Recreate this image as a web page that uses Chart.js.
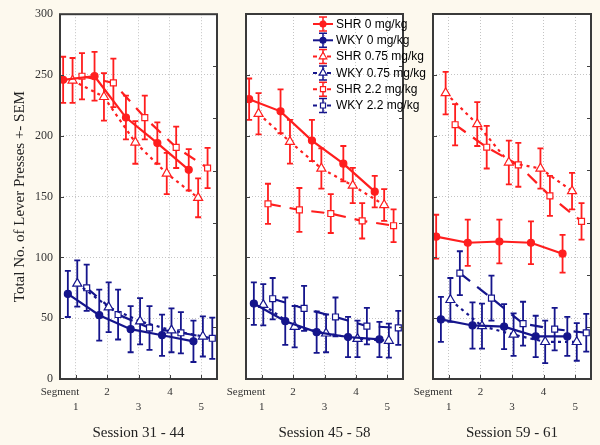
<!DOCTYPE html>
<html>
<head>
<meta charset="utf-8">
<script src="https://cdn.jsdelivr.net/npm/chart.js@4.4.1/dist/chart.umd.min.js"></script>
<style>
html, body { margin: 0; padding: 0; background: #fdf9ee; }
#wrap { position: relative; width: 600px; height: 445px; }
#wrap canvas { position: absolute; left: 0; top: 0; }
</style>
</head>
<body>
<div id="wrap">
	<canvas id="c1" width="600" height="445"></canvas>
	<canvas id="c2" width="600" height="445"></canvas>
	<canvas id="c3" width="600" height="445"></canvas>
</div>
<script>
// segments and sessions
const segments = [1, 2, 3, 4, 5];
const sessions = ['Session 31 - 44', 'Session 45 - 58', 'Session 59 - 61'];
const groups = ['SHR 0 mg/kg', 'WKY 0 mg/kg', 'SHR 0.75 mg/kg', 'WKY 0.75 mg/kg', 'SHR 2.2 mg/kg', 'WKY 2.2 mg/kg'];
const yTicks = [0, 50, 100, 150, 200, 250, 300];

// means, one row per session
const shr0 = [[246, 249, 215, 194, 172], [230, 220, 196, 177, 154], [117, 112, 113, 112, 103]];
const wky0 = [[70, 52.5, 41, 36, 31], [62, 47.5, 38.5, 34.5, 32.5], [49, 44, 43, 35, 35]];
const shr075 = [[245.5, 232, 194.5, 169, 149], [218, 195, 173, 159, 143], [235, 209.5, 178, 173, 154.5]];
const wky075 = [[78.5, 59, 47.5, 40, 35], [61, 43, 37.5, 33, 31.5], [65, 43.5, 36.5, 30.5, 30.5]];
const shr22 = [[249, 243.5, 215, 190.5, 173.5], [144, 139, 136, 130, 126], [209, 190.5, 176, 150.5, 129.5]];
const wky22 = [[75, 53, 42, 38, 33.5], [66, 58, 51, 43.5, 42], [87, 66.5, 45.5, 41, 38]];

// SEM
const shr0Sem = [[19, 20, 18, 17, 17], [17, 18, 17, 14.5, 13], [18, 19, 18, 17.5, 15.5]];
const wky0Sem = [[19, 21, 19, 17, 17], [17.5, 19.5, 17, 16.5, 14.5], [18.5, 19, 18.5, 17, 16]];
const shr075Sem = [[18.5, 19.5, 17.5, 17, 16], [17, 18, 16.5, 14.5, 13], [17.5, 18, 18, 16.5, 15]];
const wky075Sem = [[19, 20.5, 19, 18, 16.5], [17, 17, 15.5, 15, 14], [18, 18.5, 17.5, 17.5, 15.5]];
const shr22Sem = [[19, 20, 18, 17, 16.5], [16.5, 18, 16, 14.5, 13.5], [17, 17.5, 18, 16.5, 15]];
const wky22Sem = [[19, 20.5, 18, 17, 17], [17, 18.5, 16, 15, 14], [18, 18.5, 18, 17.5, 15.5]];

const means = [shr0, wky0, shr075, wky075, shr22, wky22];
const sems = [shr0Sem, wky0Sem, shr075Sem, wky075Sem, shr22Sem, wky22Sem];

// look
const RED = '#ff1e1e';
const BLUE = '#15158c';
const serif = '"Liberation Serif", "Times New Roman", serif';
const styles = [
	{color: RED, dash: [], point: 'circle', r: 3.5, fill: RED, shift: -0.4},
	{color: BLUE, dash: [], point: 'circle', r: 3.5, fill: BLUE, shift: -0.25},
	{color: RED, dash: [3, 4], point: 'triangle', r: 5.2, fill: '#fff', shift: -0.1},
	{color: BLUE, dash: [3, 4], point: 'triangle', r: 5.2, fill: '#fff', shift: 0.05},
	{color: RED, dash: [13, 9], point: 'rect', r: 4.2, fill: '#fff', shift: 0.2},
	{color: BLUE, dash: [13, 9], point: 'rect', r: 4.2, fill: '#fff', shift: 0.35}
];
const panelLeft = [60, 246, 433];
const panelRight = [217, 403, 591];

const plotFrame = {
	id: 'plotFrame',
	beforeDraw(chart) {
		const a = chart.chartArea, ctx = chart.ctx;
		ctx.save();
		ctx.fillStyle = '#ffffff';
		ctx.fillRect(a.left, a.top, a.right - a.left, a.bottom - a.top);
		ctx.restore();
	},
	beforeDatasetsDraw(chart) {
		const ctx = chart.ctx, y = chart.scales.y;
		ctx.save();
		ctx.lineWidth = 1.8;
		chart.data.datasets.forEach((ds, i) => {
			const meta = chart.getDatasetMeta(i);
			ctx.strokeStyle = ds.borderColor;
			meta.data.forEach((el, j) => {
				const v = ds.data[j].y, s = ds.sem[j];
				const t = y.getPixelForValue(v + s), b = y.getPixelForValue(v - s);
				ctx.beginPath();
				ctx.moveTo(el.x, t); ctx.lineTo(el.x, b);
				ctx.moveTo(el.x - 3, t); ctx.lineTo(el.x + 3, t);
				ctx.moveTo(el.x - 3, b); ctx.lineTo(el.x + 3, b);
				ctx.stroke();
			});
		});
		ctx.restore();
	},
	afterDraw(chart) {
		const a = chart.chartArea, ctx = chart.ctx;
		const x = chart.scales.x, y = chart.scales.y, y2 = chart.scales.y2;
		ctx.save();
		ctx.strokeStyle = '#404040';
		ctx.lineWidth = 1;
		ctx.beginPath();
		yTicks.forEach(v => {
			const py = Math.round(y.getPixelForValue(v)) + 0.5;
			ctx.moveTo(a.left, py); ctx.lineTo(a.left + 4, py);
		});
		for (let k = 1; k < 7; k++) {
			const py = Math.round(y2.getPixelForValue(k)) + 0.5;
			ctx.moveTo(a.right, py); ctx.lineTo(a.right - 4, py);
		}
		segments.forEach(v => {
			const px = Math.round(x.getPixelForValue(v)) + 0.5;
			ctx.moveTo(px, a.bottom); ctx.lineTo(px, a.bottom - 4);
		});
		ctx.stroke();
		ctx.lineWidth = 2;
		ctx.strokeStyle = '#3a3a3a';
		ctx.strokeRect(a.left, a.top, a.right - a.left, a.bottom - a.top);
		ctx.restore();
	}
};

const legendBox = {
	id: 'legendBox',
	afterDraw(chart) {
		if (!chart.options.plugins.legendBox.show) return;
		const ctx = chart.ctx;
		ctx.save();
		chart.data.datasets.forEach((ds, i) => {
			const st = styles[i];
			const yy = 24 + 16.3 * i;
			ctx.strokeStyle = st.color;
			ctx.lineWidth = 2;
			ctx.setLineDash(st.dash.length ? [4, 3] : []);
			ctx.beginPath();
			ctx.moveTo(313, yy); ctx.lineTo(333, yy);
			ctx.stroke();
			ctx.setLineDash([]);
			ctx.lineWidth = 1.5;
			ctx.beginPath();
			ctx.moveTo(323, yy - 7); ctx.lineTo(323, yy + 7);
			ctx.moveTo(319, yy - 7); ctx.lineTo(327, yy - 7);
			ctx.moveTo(319, yy + 7); ctx.lineTo(327, yy + 7);
			ctx.stroke();
			ctx.fillStyle = st.fill;
			ctx.lineWidth = 1.2;
			Chart.helpers.drawPoint(ctx, {pointStyle: st.point, radius: st.r * 0.85, rotation: 0, borderWidth: 1.2}, 323, yy);
			ctx.fillStyle = '#000';
			ctx.font = '12px "Liberation Sans", Arial, sans-serif';
			ctx.textBaseline = 'middle';
			ctx.fillText(ds.label, 336, yy + 0.5);
		});
		ctx.restore();
	}
};

function makeConfig(p) {
	const datasets = groups.map((g, i) => {
		const st = styles[i];
		return {
			label: g,
			data: means[i][p].map((v, j) => ({x: segments[j] + st.shift, y: v})),
			sem: sems[i][p],
			borderColor: st.color,
			borderWidth: 2.2,
			borderDash: st.dash,
			tension: 0,
			pointStyle: st.point,
			pointRadius: st.r,
			pointBackgroundColor: st.fill,
			pointBorderColor: st.color,
			pointBorderWidth: 1.2
		};
	});
	return {
		type: 'line',
		data: {datasets: datasets},
		plugins: [plotFrame, legendBox],
		options: {
			responsive: false,
			animation: false,
			layout: {padding: {left: p === 0 ? 0 : panelLeft[p], right: 600 - panelRight[p], top: 14, bottom: 0}},
			plugins: {
				legend: {display: false},
				tooltip: {enabled: false},
				legendBox: {show: p === 1}
			},
			scales: {
				x: {
					type: 'linear',
					min: 0.5,
					max: 5.5,
					afterBuildTicks: s => { s.ticks = [0.5].concat(segments).map(v => ({value: v})); },
					afterFit: s => { s.height = 66; },
					grid: {color: '#c4c4c4', drawTicks: false},
					border: {display: false, dash: [1, 2]},
					ticks: {
						autoSkip: false,
						maxRotation: 0,
						padding: 5.5,
						color: '#333',
						font: {family: serif, size: 11, lineHeight: '15px'},
						callback: v => v === 0.5 ? ['Segment', ''] : (v % 2 === 0 ? [String(v), ''] : ['', String(v)])
					},
					title: {
						display: true,
						text: sessions[p],
						color: '#222',
						font: {family: serif, size: 15},
						padding: {top: 3, bottom: 3}
					}
				},
				y: {
					min: 0,
					max: 300,
					afterBuildTicks: s => { s.ticks = yTicks.map(v => ({value: v})); },
					afterFit: s => { s.width = p === 0 ? 60 : 0; },
					grid: {color: '#c4c4c4', drawTicks: false},
					border: {display: false, dash: [1, 2]},
					ticks: {
						display: p === 0,
						padding: 7,
						color: '#333',
						font: {family: serif, size: 12}
					},
					title: {
						display: p === 0,
						text: 'Total No. of Lever Presses +- SEM',
						color: '#222',
						font: {family: serif, size: 15},
						padding: {top: 11, bottom: 11}
					}
				},
				y2: {
					position: 'right',
					min: 0,
					max: 7,
					display: false
				}
			}
		}
	};
}

const chart1 = new Chart(document.getElementById('c1'), makeConfig(0));
const chart2 = new Chart(document.getElementById('c2'), makeConfig(1));
const chart3 = new Chart(document.getElementById('c3'), makeConfig(2));
</script>
</body>
</html>
